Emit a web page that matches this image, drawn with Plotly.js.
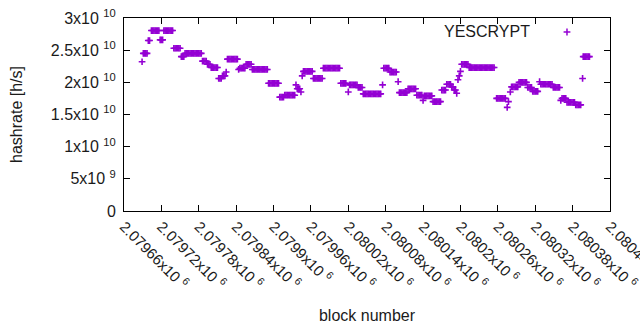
<!DOCTYPE html>
<html>
<head>
<meta charset="utf-8">
<script src="https://cdn.plot.ly/plotly-3.0.1.min.js"></script>
<style>html,body{margin:0;padding:0;background:#fff;}</style>
</head>
<body>
<div id="chart" style="width:640px;height:330px;"></div>
<script>
const seriesName = 'YESCRYPT';

const blockNumber = [
2079689,
2079691,2079693,2079695,2079697,
2079699,2079701,
2079704,2079706,2079708,2079710,2079712,2079714,2079716,
2079718,2079720,2079722,
2079724,2079726,2079728,2079730,2079732,2079734,2079736,2079738,
2079740,2079742,2079744,2079746,2079748,2079750,
2079752,2079754,2079756,
2079758,2079760,2079762,2079764,2079766,2079768,2079770,2079772,2079774,2079776,2079778,2079780,2079782,2079784,
2079786,2079788,2079790,2079792,
2079794,2079796,2079798,
2079800,2079802,2079804,2079806,2079808,2079810,
2079812,2079814,2079816,
2079818,2079820,2079822,
2079824,
2079826,2079828,2079830,2079832,2079834,2079836,2079838,2079840,2079842,
2079844,
2079846,2079848,2079850,2079852,2079854,
2079856,2079858,2079860,2079862,2079864,
2079866,2079868,2079870,2079872,2079874,2079876,2079878,2079880,2079882,2079884,2079886,2079888,2079890,
2079892,2079894,2079896,2079898,2079900,2079902,2079904,2079906,2079908,
2079910,2079912,2079914,2079916,
2079918,2079920,2079922,2079924,2079926,2079928,2079930,2079932,2079934,
2079936,
2079938,2079940,2079942,
2079944,
2079946,
2079948,2079950,2079952,2079954,2079956,2079958,2079960,2079962,
2079964,2079966,2079968,2079970,2079972,2079974,2079976,2079978,
2079980,2079982,2079984,2079986,2079988,2079990,2079992,2079994,2079996,2079998,2080000,2080002,2080004,2080006,
2080008,2080010,2080012,2080014,2080016,
2080020,
2080022,2080024,2080026,2080028,2080030,2080032,2080034,
2080036,2080038,2080040,2080042,
2080044,2080046,2080048,2080050,2080052,2080054,2080056,2080058,2080060,2080062,2080064,2080066,2080068,2080070,2080072,
2080075,
2080077,2080079,2080081,2080083,2080085,
2080087,2080089,2080091,2080093,2080095,2080097,
2080100,
2080102,2080104,2080106,2080108,2080110,2080112,2080114,
2080116,2080118,2080120,2080122,2080124,2080126,2080128,
2080130,2080132,2080134,2080136,2080138,
2080140,
2080142,2080144,2080146,2080148,2080150,2080152,2080154,
2080156,2080158,2080160,2080162,2080164,2080166,2080168,
2080170,2080172,2080174,2080176,
2080178,2080180,2080182,2080184,
2080186,2080188,
2080190,2080192,
2080194,
2080196,
2080198,
2080200,
2080202,2080204,2080206,2080208,2080210,2080212,
2080214,2080216,2080218,2080220,2080222,2080224,2080226,2080228,2080230,2080232,2080234,2080236,2080238,2080240,2080242,2080244,2080246,2080248,2080250,2080252,2080254,
2080258,2080260,2080262,2080264,2080266,2080268,2080270,2080272,
2080275,
2080277,
2080280,
2080282,2080284,2080286,2080288,2080290,2080292,
2080294,2080296,2080298,2080300,2080302,2080304,2080306,
2080308,2080310,2080312,2080314,
2080316,2080318,2080320,2080322,2080324,
2080327,
2080329,2080331,2080333,2080335,2080337,2080339,2080341,2080343,2080345,2080347,
2080349,2080351,2080353,2080355,2080357,2080359,
2080361,
2080363,2080365,2080367,2080369,
2080371,2080373,2080375,2080377,2080379,2080381,2080383,
2080385,2080387,2080389,2080391,2080393,
2080396,
2080397,2080399,2080401,2080403,2080405,2080407
];

// hashrate in units of 1e10 h/s
const hashrateE10 = [
2.32,
2.45,2.45,2.45,2.45,
2.65,2.65,
2.805,2.805,2.805,2.805,2.805,2.805,2.805,
2.66,2.66,2.66,
2.805,2.805,2.805,2.805,2.805,2.805,2.805,2.805,
2.53,2.53,2.53,2.53,2.53,2.53,
2.40,2.40,2.40,
2.45,2.45,2.45,2.45,2.45,2.45,2.45,2.45,2.45,2.45,2.45,2.45,2.45,2.45,
2.33,2.33,2.33,2.33,
2.28,2.28,2.28,
2.23,2.23,2.23,2.23,2.23,2.23,
2.06,2.06,2.06,
2.10,2.10,2.10,
2.16,
2.36,2.36,2.36,2.36,2.36,2.36,2.36,2.36,2.36,
2.20,
2.22,2.22,2.22,2.22,2.22,
2.28,2.28,2.28,2.28,2.28,
2.20,2.20,2.20,2.20,2.20,2.20,2.20,2.20,2.20,2.20,2.20,2.20,2.20,
1.985,1.985,1.985,1.985,1.985,1.985,1.985,1.985,1.985,
1.77,1.77,1.77,1.77,
1.80,1.80,1.80,1.80,1.80,1.80,1.80,1.80,1.80,
1.96,
1.90,1.90,1.90,
1.85,
2.10,
2.17,2.17,2.17,2.17,2.17,2.17,2.17,2.17,
2.06,2.06,2.06,2.06,2.06,2.06,2.06,2.06,
2.22,2.22,2.22,2.22,2.22,2.22,2.22,2.22,2.22,2.22,2.22,2.22,2.22,2.22,
1.985,1.985,1.985,1.985,1.985,
1.85,
1.96,1.96,1.96,1.96,1.96,1.96,1.96,
1.92,1.92,1.92,1.92,
1.82,1.82,1.82,1.82,1.82,1.82,1.82,1.82,1.82,1.82,1.82,1.82,1.82,1.82,1.82,
1.96,
2.22,2.22,2.22,2.22,2.22,
2.16,2.16,2.16,2.16,2.16,2.16,
2.01,
1.84,1.84,1.84,1.84,1.84,1.84,1.84,
1.90,1.90,1.90,1.90,1.90,1.90,1.90,
1.80,1.80,1.80,1.80,1.80,
1.72,
1.79,1.79,1.79,1.79,1.79,1.79,1.79,
1.70,1.70,1.70,1.70,1.70,1.70,1.70,
1.88,1.88,1.88,1.88,
1.97,1.97,1.97,1.97,
1.93,1.93,
1.88,1.88,
1.83,
2.04,
2.10,
2.17,
2.28,2.28,2.28,2.28,2.28,2.28,
2.23,2.23,2.23,2.23,2.23,2.23,2.23,2.23,2.23,2.23,2.23,2.23,2.23,2.23,2.23,2.23,2.23,2.23,2.23,2.23,2.23,
1.75,1.75,1.75,1.75,1.75,1.75,1.75,1.75,
1.61,
1.70,
1.85,
1.93,1.93,1.93,1.93,1.93,1.93,
2.00,2.00,2.00,2.00,2.00,2.00,2.00,
1.92,1.92,1.92,1.92,
1.86,1.86,1.86,1.86,1.86,
2.01,
1.97,1.97,1.97,1.97,1.97,1.97,1.97,1.97,1.97,1.97,
1.92,1.92,1.92,1.92,1.92,1.92,
1.72,
1.75,1.75,1.75,1.75,
1.69,1.69,1.69,1.69,1.69,1.69,1.69,
1.65,1.65,1.65,1.65,1.65,
2.06,
2.40,2.40,2.40,2.40,2.40,2.40
];

const xTickValues = [2079660,2079720,2079780,2079840,2079900,2079960,2080020,2080080,2080140,2080200,2080260,2080320,2080380,2080440];
const xTickLabels = ['2.07966x10 <sup>6</sup>','2.07972x10 <sup>6</sup>','2.07978x10 <sup>6</sup>','2.07984x10 <sup>6</sup>','2.0799x10 <sup>6</sup>','2.07996x10 <sup>6</sup>','2.08002x10 <sup>6</sup>','2.08008x10 <sup>6</sup>','2.08014x10 <sup>6</sup>','2.0802x10 <sup>6</sup>','2.08026x10 <sup>6</sup>','2.08032x10 <sup>6</sup>','2.08038x10 <sup>6</sup>','2.08044x10 <sup>6</sup>'];
const yTickValues = [0,5e9,1e10,1.5e10,2e10,2.5e10,3e10];
const yTickLabels = ['0','5x10 <sup>9</sup>','1x10 <sup>10</sup>','1.5x10 <sup>10</sup>','2x10 <sup>10</sup>','2.5x10 <sup>10</sup>','3x10 <sup>10</sup>'];

const color = '#9400d3';
const trace = {
  x: blockNumber,
  y: hashrateE10.map(v => v * 1e10),
  type: 'scatter',
  mode: 'markers',
  name: seriesName,
  marker: {symbol: 'cross-thin-open', size: 4.8, color: color, line: {color: color, width: 1.6}},
  hoverinfo: 'x+y'
};

const font = {family: 'Liberation Sans, Arial, sans-serif', size: 16, color: '#1a1a1a'};

const layout = {
  width: 640, height: 330,
  margin: {l: 124, r: 30, t: 18, b: 119, pad: 0},
  paper_bgcolor: '#ffffff', plot_bgcolor: '#ffffff',
  font: font,
  showlegend: false,
  xaxis: {
    range: [2079660, 2080440],
    tickmode: 'array', tickvals: xTickValues, ticktext: xTickLabels,
    tickangle: 45, ticks: 'inside', ticklen: 6, tickcolor: '#000',
    ticklabeloverflow: 'allow',
    showline: true, linecolor: '#000', linewidth: 1, mirror: 'ticks',
    showgrid: false, zeroline: false,
    tickfont: {family: font.family, size: 15, color: '#1a1a1a'},
    title: {text: 'block number', font: {family: font.family, size: 16, color: '#1a1a1a'}, standoff: 18}
  },
  yaxis: {
    range: [0, 3e10],
    tickmode: 'array', tickvals: yTickValues, ticktext: yTickLabels,
    ticks: 'inside', ticklen: 6, tickcolor: '#000',
    showline: true, linecolor: '#000', linewidth: 1, mirror: 'ticks',
    showgrid: false, zeroline: false,
    ticklabelstandoff: 4,
    tickfont: {family: font.family, size: 16, color: '#1a1a1a'},
    title: {text: 'hashrate [h/s]', font: {family: font.family, size: 16, color: '#1a1a1a'}, standoff: 24}
  },
  annotations: [{
    xref: 'paper', yref: 'paper', x: 0.8395, y: 0.9275,
    xanchor: 'right', yanchor: 'middle', showarrow: false,
    text: seriesName, font: {family: font.family, size: 16, color: '#1a1a1a'}
  }],
  shapes: [
    {type: 'line', xref: 'paper', yref: 'paper', x0: 0.9045, x1: 0.9185, y0: 0.9275, y1: 0.9275, line: {color: color, width: 1.5}},
    {type: 'line', xref: 'paper', yref: 'paper', x0: 0.9115, x1: 0.9115, y0: 0.9095, y1: 0.9455, line: {color: color, width: 1.5}}
  ]
};

Plotly.newPlot('chart', [trace], layout, {displayModeBar: false, staticPlot: true});
</script>
</body>
</html>
